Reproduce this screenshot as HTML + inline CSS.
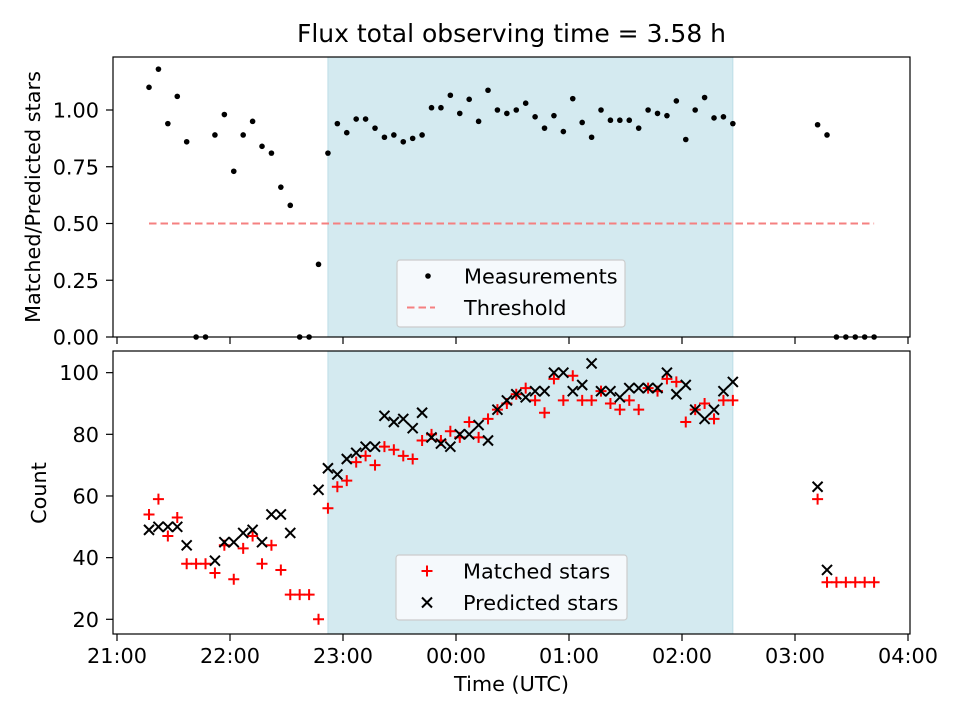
<!DOCTYPE html>
<html><head><meta charset="utf-8"><style>
body{margin:0;background:#fff;}
svg text{font-family:"DejaVu Sans","Liberation Sans",sans-serif;fill:#000;}
</style></head><body>
<svg id="chart" width="960" height="720" viewBox="0 0 960 720" xmlns="http://www.w3.org/2000/svg"></svg>
<script>
const minutes=[17,22,27,32,37,42,47,52,57,62,67,72,77,82,87,92,97,102,107,112,117,122,127,132,137,142,147,152,157,162,167,172,177,182,187,192,197,202,207,212,217,222,227,232,237,242,247,252,257,262,267,272,277,282,287,292,297,302,307,312,317,322,327,372,377,382,387,392,397,402];
const ratio=[1.10,1.18,0.94,1.06,0.86,0,0,0.89,0.98,0.73,0.89,0.95,0.84,0.81,0.66,0.58,0,0,0.32,0.81,0.94,0.90,0.96,0.96,0.92,0.88,0.89,0.86,0.875,0.89,1.01,1.01,1.065,0.985,1.047,0.95,1.087,1.00,0.985,1.00,1.03,0.97,0.92,0.975,0.905,1.05,0.945,0.88,1.00,0.955,0.955,0.955,0.92,1.00,0.985,0.975,1.04,0.87,1.00,1.055,0.965,0.97,0.94,0.935,0.89,0,0,0,0,0];
const matched=[54,59,47,53,38,38,38,35,44,33,43,47,38,44,36,28,28,28,20,56,63,65,71,73,70,76,75,73,72,78,80,78,81,79,84,79,85,88,90,93,95,91,87,98,91,99,91,91,94,90,88,91,88,95,94,98,97,84,88,90,85,91,91,59,32,32,32,32,32,32];
const predicted=[49,50,50,50,44,null,null,39,45,45,48,49,45,54,54,48,null,null,62,69,67,72,74,76,76,86,84,85,82,87,79,77,76,80,80,83,78,88,91,93,92,94,94,100,100,94,96,103,94,94,92,95,95,95,95,100,93,96,88,85,88,94,97,63,36,null,null,null,null,null];
const threshold=0.5;
const thresholdRange=[17,402];
const spanRange=[112,327];
const xTickLabels=["21:00","22:00","23:00","00:00","01:00","02:00","03:00","04:00"];
const topTicks=[0,0.25,0.5,0.75,1.0];
const botTicks=[20,40,60,80,100];

const NS="http://www.w3.org/2000/svg";
const svg=document.getElementById('chart');
function el(tag,attrs,parent){const e=document.createElementNS(NS,tag);for(const k in attrs)e.setAttribute(k,attrs[k]);(parent||svg).appendChild(e);return e;}
const L=113,R=910;
const FS='20.8';
const TL=7;
const xs=m=>117+m/60*113;
const yTop=v=>337-v*227;
const yBot=c=>619.3-(c-20)*3.083;

let t=el('text',{x:511.5,y:42,'font-size':'25','text-anchor':'middle'});


t.textContent='Flux total observing time = 3.58 h';

function panel(top,bot,name){
  const g=el('g',{});
  
  
  const sp=el('rect',{x:xs(spanRange[0]),y:top,width:xs(spanRange[1])-xs(spanRange[0]),height:bot-top,fill:'#d4eaf0',stroke:'#bcdde6','stroke-width':1},g);
  
  
  return g;
}
const gTop=panel(57,337,'top-panel');
const gBot=panel(351,634,'bottom-panel');

const th=el('line',{x1:xs(thresholdRange[0]),x2:xs(thresholdRange[1]),y1:yTop(threshold),y2:yTop(threshold),stroke:'#f58080','stroke-width':2,'stroke-dasharray':'7.5,4'},gTop);



minutes.forEach((m,i)=>{
  const c=el('circle',{cx:xs(m),cy:yTop(ratio[i]),r:2.8,fill:'#000'},gTop);
  
  
});
minutes.forEach((m,i)=>{
  const x=xs(m),y=yBot(matched[i]);
  const p=el('path',{d:`M${x-5.5},${y}H${x+5.5}M${x},${y-5.5}V${y+5.5}`,stroke:'#ff0000','stroke-width':2},gBot);
  
  
});
minutes.forEach((m,i)=>{
  if(predicted[i]===null)return;
  const x=xs(m),y=yBot(predicted[i]);
  const p=el('path',{d:`M${x-5},${y-5}L${x+5},${y+5}M${x-5},${y+5}L${x+5},${y-5}`,stroke:'#000','stroke-width':2},gBot);
  
  
});

[[57,337,'top-axes-frame'],[351,634,'bottom-axes-frame']].forEach(([a,b,n])=>{
  const r=el('rect',{x:L,y:a,width:R-L,height:b-a,fill:'none',stroke:'#000','stroke-width':1.2});
  
  
});
xTickLabels.forEach((lab,i)=>{
  const x=xs(i*60);
  el('line',{x1:x,x2:x,y1:337,y2:337+TL,stroke:'#000','stroke-width':1.2});
  el('line',{x1:x,x2:x,y1:634,y2:634+TL,stroke:'#000','stroke-width':1.2});
  const tx=el('text',{x:x,y:663,'font-size':FS,'text-anchor':'middle'});
  
  
  tx.textContent=lab;
});
topTicks.forEach(v=>{
  const y=yTop(v);
  el('line',{x1:L-TL,x2:L,y1:y,y2:y,stroke:'#000','stroke-width':1.2});
  const tx=el('text',{x:L-14,y:y+7.5,'font-size':FS,'text-anchor':'end'});
  
  
  tx.textContent=v.toFixed(2);
});
botTicks.forEach(v=>{
  const y=yBot(v);
  el('line',{x1:L-TL,x2:L,y1:y,y2:y,stroke:'#000','stroke-width':1.2});
  const tx=el('text',{x:L-14,y:y+7.5,'font-size':FS,'text-anchor':'end'});
  
  
  tx.textContent=v;
});
let a1=el('text',{x:0,y:0,'font-size':FS,'text-anchor':'middle',transform:'translate(40,197) rotate(-90)'});


a1.textContent='Matched/Predicted stars';
let a2=el('text',{x:0,y:0,'font-size':FS,'text-anchor':'middle',transform:'translate(46,493) rotate(-90)'});


a2.textContent='Count';
let a3=el('text',{x:511.5,y:691,'font-size':FS,'text-anchor':'middle'});


a3.textContent='Time (UTC)';

function legend(x,y,w,h,name,items){
  const g=el('g',{});
  
  
  el('rect',{x:x,y:y,width:w,height:h,rx:3,fill:'#f5f9fc',stroke:'#cccccc','stroke-width':1.2},g);
  items.forEach((it,i)=>{
    const cy=y+16+i*31.5;
    it.draw(g,x+31,cy);
    const tx=el('text',{x:x+67,y:cy+7.5,'font-size':FS},g);
    
    
    tx.textContent=it.label;
  });
}
legend(397,260,228,67,'top-legend',[
  {label:'Measurements',draw:(g,x,y)=>el('circle',{cx:x,cy:y,r:2.8,fill:'#000'},g)},
  {label:'Threshold',draw:(g,x,y)=>el('line',{x1:x-21,x2:x+7,y1:y,y2:y,stroke:'#f58080','stroke-width':2,'stroke-dasharray':'7.5,4'},g)}
]);
legend(396,555,231,65,'bottom-legend',[
  {label:'Matched stars',draw:(g,x,y)=>el('path',{d:`M${x-5.5},${y}H${x+5.5}M${x},${y-5.5}V${y+5.5}`,stroke:'#ff0000','stroke-width':2},g)},
  {label:'Predicted stars',draw:(g,x,y)=>el('path',{d:`M${x-5},${y-5}L${x+5},${y+5}M${x-5},${y+5}L${x+5},${y-5}`,stroke:'#000','stroke-width':2},g)}
]);
</script>
</body></html>
